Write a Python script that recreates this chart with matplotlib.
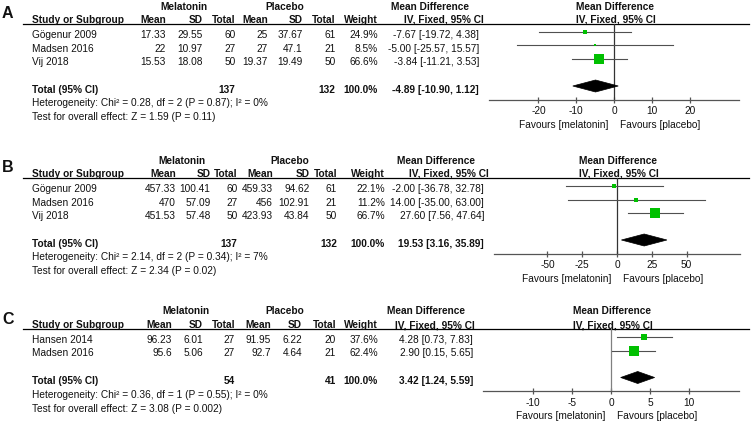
import matplotlib
matplotlib.use('Agg')
import matplotlib.pyplot as plt
from matplotlib.transforms import ScaledTranslation
from matplotlib.patches import Polygon

plt.rcParams['font.family'] = ['Liberation Sans', 'DejaVu Sans']
plt.rcParams['axes.unicode_minus'] = False

W, H = 752, 426
FS = 7.3
GREEN = '#00C000'
LINE = '#505050'

# ---------------- data ----------------
a_studies = ['Gögenur 2009', 'Madsen 2016', 'Vij 2018']
a_mel_mean = [17.33, 22, 15.53]
a_mel_sd = [29.55, 10.97, 18.08]
a_mel_n = [60, 27, 50]
a_pla_mean = [25, 27, 19.37]
a_pla_sd = [37.67, 47.1, 19.49]
a_pla_n = [61, 21, 50]
a_weight = [24.9, 8.5, 66.6]
a_md = [-7.67, -5.00, -3.84]
a_lo = [-19.72, -25.57, -11.21]
a_hi = [4.38, 15.57, 3.53]
a_total = [-4.89, -10.90, 1.12]
a_total_n = [137, 132]
a_het = 'Heterogeneity: Chi² = 0.28, df = 2 (P = 0.87); I² = 0%'
a_test = 'Test for overall effect: Z = 1.59 (P = 0.11)'
a_ticks = [-20, -10, 0, 10, 20]

b_studies = ['Gögenur 2009', 'Madsen 2016', 'Vij 2018']
b_mel_mean = [457.33, 470, 451.53]
b_mel_sd = [100.41, 57.09, 57.48]
b_mel_n = [60, 27, 50]
b_pla_mean = [459.33, 456, 423.93]
b_pla_sd = [94.62, 102.91, 43.84]
b_pla_n = [61, 21, 50]
b_weight = [22.1, 11.2, 66.7]
b_md = [-2.00, 14.00, 27.60]
b_lo = [-36.78, -35.00, 7.56]
b_hi = [32.78, 63.00, 47.64]
b_total = [19.53, 3.16, 35.89]
b_total_n = [137, 132]
b_het = 'Heterogeneity: Chi² = 2.14, df = 2 (P = 0.34); I² = 7%'
b_test = 'Test for overall effect: Z = 2.34 (P = 0.02)'
b_ticks = [-50, -25, 0, 25, 50]

c_studies = ['Hansen 2014', 'Madsen 2016']
c_mel_mean = [96.23, 95.6]
c_mel_sd = [6.01, 5.06]
c_mel_n = [27, 27]
c_pla_mean = [91.95, 92.7]
c_pla_sd = [6.22, 4.64]
c_pla_n = [20, 21]
c_weight = [37.6, 62.4]
c_md = [4.28, 2.90]
c_lo = [0.73, 0.15]
c_hi = [7.83, 5.65]
c_total = [3.42, 1.24, 5.59]
c_total_n = [54, 41]
c_het = 'Heterogeneity: Chi² = 0.36, df = 1 (P = 0.55); I² = 0%'
c_test = 'Test for overall effect: Z = 3.08 (P = 0.002)'
c_ticks = [-10, -5, 0, 5, 10]

# ---------------- layout (pixels) ----------------
panels = [
    dict(label='A', T=0.0, studies=a_studies, mm=a_mel_mean, ms=a_mel_sd, mn=a_mel_n,
         pm=a_pla_mean, ps=a_pla_sd, pn=a_pla_n, w=a_weight, md=a_md, lo=a_lo, hi=a_hi,
         tot=a_total, totn=a_total_n, het=a_het, test=a_test, ticks=a_ticks,
         cols=[166, 203, 235.5, 268, 302.5, 335.5, 378, 479], melc=184, plac=285,
         mdh=430, ivh=444, zero=614, half=125, lim=33.07, zc='#333333'),
    dict(label='B', T=154.0, studies=b_studies, mm=b_mel_mean, ms=b_mel_sd, mn=b_mel_n,
         pm=b_pla_mean, ps=b_pla_sd, pn=b_pla_n, w=b_weight, md=b_md, lo=b_lo, hi=b_hi,
         tot=b_total, totn=b_total_n, het=b_het, test=b_test, ticks=b_ticks,
         cols=[176, 210.5, 237.5, 273, 309.5, 337, 385, 484], melc=182, plac=290,
         mdh=436, ivh=449, zero=617, half=123, lim=88.4, zc='#333333'),
    dict(label='C', T=305.0, studies=c_studies, mm=c_mel_mean, ms=c_mel_sd, mn=c_mel_n,
         pm=c_pla_mean, ps=c_pla_sd, pn=c_pla_n, w=c_weight, md=c_md, lo=c_lo, hi=c_hi,
         tot=c_total, totn=c_total_n, het=c_het, test=c_test, ticks=c_ticks,
         cols=[172, 203, 235, 271, 302, 336, 378, 473], melc=186, plac=285,
         mdh=426, ivh=435, zero=611, half=128, lim=16.4, zc='#808080'),
]

fig = plt.figure(figsize=(W / 100, H / 100), dpi=100)
bg = fig.add_axes([0, 0, 1, 1])
bg.set_xlim(0, W)
bg.set_ylim(H, 0)
bg.axis('off')


def txt(x, y, s, ha='left', bold=False, size=FS):
    bg.text(x, y, s, ha=ha, va='baseline', fontsize=size,
            fontweight='bold' if bold else 'normal', color='#111111')


def fmt(v):
    return f'{v:g}'


def ci(m, l, h):
    return f'{m:.2f} [{l:.2f}, {h:.2f}]'


ROW = 13.5
for p in panels:
    T = p['T']
    c = p['cols']
    n = len(p['studies'])
    # panel letter
    txt(2, T + 18.5, p['label'], bold=True, size=11.5)
    # group headers
    txt(p['melc'], T + 9.5, 'Melatonin', ha='center', bold=True)
    txt(p['plac'], T + 9.5, 'Placebo', ha='center', bold=True)
    txt(p['mdh'], T + 9.5, 'Mean Difference', ha='center', bold=True)
    txt(p['zero'] + 1, T + 9.5, 'Mean Difference', ha='center', bold=True)
    # column headers
    hb = T + 23
    txt(32, hb, 'Study or Subgroup', bold=True)
    for x, s in zip(c[:7], ['Mean', 'SD', 'Total', 'Mean', 'SD', 'Total', 'Weight']):
        txt(x, hb, s, ha='right', bold=True)
    txt(p['ivh'], hb, 'IV, Fixed, 95% CI', ha='center', bold=True)
    txt(p['zero'] + 2, hb, 'IV, Fixed, 95% CI', ha='center', bold=True)
    bg.plot([23, 749], [T + 24, T + 24], color='black', lw=0.9)

    rows_y = [T + 32 + ROW * i for i in range(n)]
    for i, y in enumerate(rows_y):
        b = y + 6
        txt(32, b, p['studies'][i])
        vals = [fmt(p['mm'][i]), fmt(p['ms'][i]), str(p['mn'][i]),
                fmt(p['pm'][i]), fmt(p['ps'][i]), str(p['pn'][i]),
                f"{p['w'][i]:.1f}%", ci(p['md'][i], p['lo'][i], p['hi'][i])]
        for x, s in zip(c, vals):
            txt(x, b, s, ha='right')

    dy = rows_y[-1] + 27
    tb = dy + 7
    txt(32, tb, 'Total (95% CI)', bold=True)
    txt(c[2], tb, str(p['totn'][0]), ha='right', bold=True)
    txt(c[5], tb, str(p['totn'][1]), ha='right', bold=True)
    txt(c[6], tb, '100.0%', ha='right', bold=True)
    txt(c[7], tb, ci(*p['tot']), ha='right', bold=True)
    txt(32, tb + 13.5, p['het'])
    txt(32, tb + 27.5, p['test'])

    # forest axes
    axis_y = dy + 13.5
    top = T + 24
    ax = fig.add_axes([(p['zero'] - p['half']) / W, (H - axis_y) / H,
                       2 * p['half'] / W, (axis_y - top) / H])
    ax.set_xlim(-p['lim'], p['lim'])
    ax.set_ylim(axis_y, top)
    ax.patch.set_visible(False)
    for s in ['top', 'left', 'right']:
        ax.spines[s].set_visible(False)
    ax.spines['bottom'].set_color('#555555')
    ax.spines['bottom'].set_linewidth(0.9)
    ax.set_yticks([])
    ax.set_xticks(p['ticks'])
    ax.set_xticklabels([str(t) for t in p['ticks']])
    ax.tick_params(axis='x', direction='inout', length=5, width=0.9, color='#555555',
                   labelsize=FS, pad=2.2, labelcolor='#111111')
    ax.axvline(0, color=p['zc'], lw=0.9)
    for i, y in enumerate(rows_y):
        ax.plot([p['lo'][i], p['hi'][i]], [y, y], color=LINE, lw=0.8, clip_on=False)
        size_px = 1.5 + 0.14 * p['w'][i]
        ax.plot([p['md'][i]], [y], marker='s', color=GREEN, markersize=size_px * 0.72,
                markeredgewidth=0, linestyle='none', clip_on=False, zorder=3)
    m, l, h = p['tot']
    ax.add_patch(Polygon([[l, dy], [m, dy - 6], [h, dy], [m, dy + 6]], closed=True,
                         facecolor='black', edgecolor='black', lw=0.5, clip_on=False, zorder=3))
    left_off = ScaledTranslation(-6 / 100, 0, fig.dpi_scale_trans)
    right_off = ScaledTranslation(6 / 100, 0, fig.dpi_scale_trans)
    ax.text(0, axis_y + 28, 'Favours [melatonin]', ha='right', va='baseline', fontsize=FS,
            color='#111111', transform=ax.transData + left_off, clip_on=False)
    ax.text(0, axis_y + 28, 'Favours [placebo]', ha='left', va='baseline', fontsize=FS,
            color='#111111', transform=ax.transData + right_off, clip_on=False)

fig.savefig('out.png', dpi=100)
